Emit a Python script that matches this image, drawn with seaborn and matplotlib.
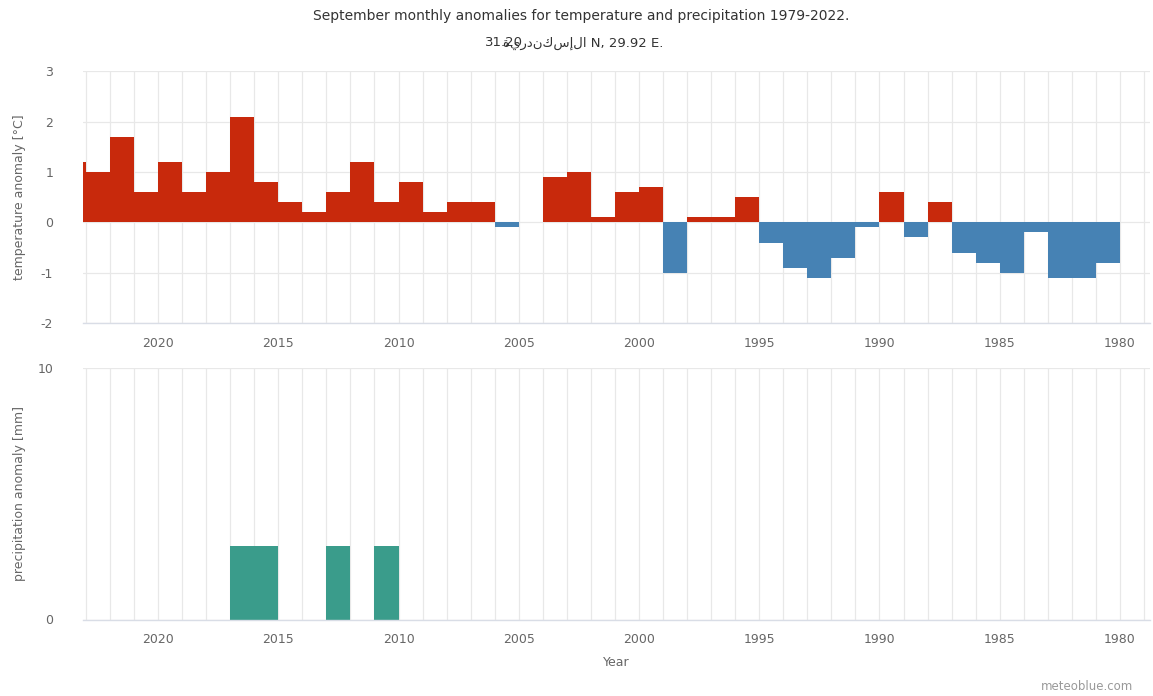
import numpy as np
import pandas as pd
import matplotlib
matplotlib.use("Agg")
import matplotlib.pyplot as plt
from matplotlib.ticker import MultipleLocator, FuncFormatter
import seaborn as sns

# September anomalies, newest year first
years = list(range(2022, 1978, -1))
temp_anomaly = [1.2, 1.0, 1.7, 0.6, 1.2, 0.6, 1.0, 2.1, 0.8, 0.4,
                0.2, 0.6, 1.2, 0.4, 0.8, 0.2, 0.4, 0.4, -0.1, np.nan,
                0.9, 1.0, 0.1, 0.6, 0.7, -1.0, 0.1, 0.1, 0.5, -0.4,
                -0.9, -1.1, -0.7, -0.1, 0.6, -0.3, 0.4, -0.6, -0.8, -1.0,
                -0.2, -1.1, -1.1, -0.8]
wet_years = [2015, 2014, 2011, 2009]
wet_anomaly = [2.9, 2.9, 2.9, 2.9]

title = "September monthly anomalies for temperature and precipitation 1979-2022."
place_name = "الإسكندرية"
latitude = "31.20"
coords_rest = " N, 29.92 E."
temp_label = "temperature anomaly [°C]"
precip_label = "precipitation anomaly [mm]"
x_label = "Year"
credit = "meteoblue.com"

sns.set_style("white")
plt.rcParams["font.family"] = ["DejaVu Sans"]
plt.rcParams["axes.unicode_minus"] = False

W, H = 1153, 696
fig = plt.figure(figsize=(W / 100, H / 100), dpi=100)

def px_box(left, top, right, bottom):
    return [left / W, 1 - bottom / H, (right - left) / W, (bottom - top) / H]

ax_t = fig.add_axes(px_box(83, 71.5, 1150, 323))
ax_p = fig.add_axes(px_box(83, 367.7, 1150, 619.5))

# each September value is drawn as a one-year step spanning [year+1, year+2]
temp_df = pd.DataFrame({"year": years, "anomaly": temp_anomaly})
temp_df["center"] = temp_df["year"] + 1.5
temp_df["sign"] = np.where(temp_df["anomaly"] >= 0, "warm", "cold")
temp_df = temp_df.dropna()

precip = dict(zip(wet_years, wet_anomaly))
precip_df = pd.DataFrame({"year": years,
                          "anomaly": [precip.get(y, 0.0) for y in years]})
precip_df["center"] = precip_df["year"] + 1.5

sns.barplot(data=temp_df, x="center", y="anomaly", hue="sign",
            palette={"warm": "#c8290c", "cold": "#4682b4"},
            native_scale=True, width=1.0, dodge=False, legend=False,
            linewidth=0, saturation=1, ax=ax_t)
sns.barplot(data=precip_df, x="center", y="anomaly", color="#3a9c8b",
            native_scale=True, width=1.0, linewidth=0,
            saturation=1, ax=ax_p)

grid_c = "#e8e8e8"
for ax in (ax_t, ax_p):
    ax.set_xlim(2023.12, 1978.75)
    ax.xaxis.set_major_locator(MultipleLocator(5))
    ax.xaxis.set_minor_locator(MultipleLocator(1))
    ax.xaxis.set_major_formatter(FuncFormatter(lambda v, p: f"{int(round(v))}"))
    ax.grid(which="both", axis="x", color=grid_c, lw=0.9)
    ax.grid(which="major", axis="y", color=grid_c, lw=0.9)
    ax.set_axisbelow(True)
    for s in ("top", "right", "left"):
        ax.spines[s].set_visible(False)
    ax.spines["bottom"].set_color("#d9dde6")
    ax.spines["bottom"].set_linewidth(1)
    ax.tick_params(axis="x", which="major", length=8, color="#d9dde6",
                   labelsize=9, labelcolor="#666666", pad=2)
    ax.tick_params(axis="x", which="minor", length=0)
    ax.tick_params(axis="y", length=0, labelsize=9, labelcolor="#666666", pad=21.5)
    ax.set_xlabel("")

ax_t.set_ylim(-2, 3)
ax_t.yaxis.set_major_locator(MultipleLocator(1))
ax_t.set_ylabel(temp_label, fontsize=9, color="#666666")

ax_p.set_ylim(0, 10)
ax_p.set_yticks([0, 10])
ax_p.set_ylabel(precip_label, fontsize=9, color="#666666")
ax_p.set_xlabel(x_label, fontsize=9, color="#666666", labelpad=7)

ax_t.yaxis.set_label_coords(-0.0535, 0.5)
ax_p.yaxis.set_label_coords(-0.0535, 0.5)

fig.text(581 / W, 1 - 16 / H, title, ha="center", va="center",
         fontsize=10, color="#333333")
# subtitle: the place name runs into the latitude, as in the source layout;
# matplotlib lays glyphs out left to right, so the Arabic name is reversed for display
fig.text(485 / W, 1 - 43 / H, latitude, ha="left", va="center",
         fontsize=9.5, color="#333333")
fig.text(503 / W, 1 - 43 / H, place_name[::-1] + coords_rest, ha="left",
         va="center", fontsize=9.5, color="#333333")
fig.text(1133 / W, 1 - 686 / H, credit, ha="right", va="center",
         fontsize=8.5, color="#999999")

fig.savefig("out.png", dpi=100)
